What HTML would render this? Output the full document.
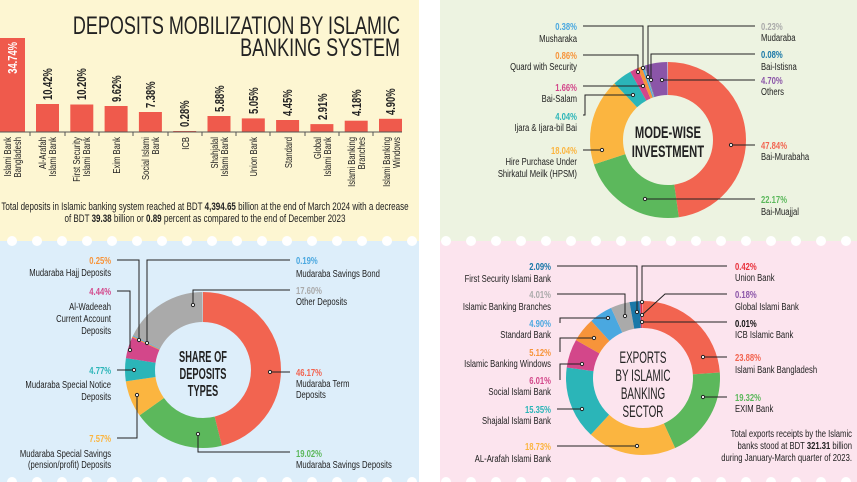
<!DOCTYPE html>
<html><head><meta charset="utf-8"><style>
html,body{margin:0;padding:0;background:#fff}
svg{display:block}
text{font-family:"Liberation Sans",sans-serif;font-size:10.5px;fill:#222}
.l{stroke:#222;stroke-width:1;fill:none}
.d{fill:#fff;stroke:#222;stroke-width:1}
</style></head><body>
<svg width="857" height="482" viewBox="0 0 857 482" xmlns="http://www.w3.org/2000/svg">
<rect x="0" y="0" width="419" height="241" fill="#fdf6d2"/>
<rect x="440" y="0" width="417" height="241" fill="#edf3e1"/>
<rect x="0" y="241" width="419" height="241" fill="#ddeefa"/>
<rect x="440" y="241" width="417" height="241" fill="#fce4ee"/>
<g fill="#fff">
<circle cx="12" cy="241" r="5"/><circle cx="37" cy="241" r="5"/><circle cx="62" cy="241" r="5"/><circle cx="87" cy="241" r="5"/><circle cx="112" cy="241" r="5"/><circle cx="137" cy="241" r="5"/><circle cx="162" cy="241" r="5"/><circle cx="187" cy="241" r="5"/><circle cx="212" cy="241" r="5"/><circle cx="237" cy="241" r="5"/><circle cx="262" cy="241" r="5"/><circle cx="287" cy="241" r="5"/><circle cx="312" cy="241" r="5"/><circle cx="337" cy="241" r="5"/><circle cx="362" cy="241" r="5"/><circle cx="387" cy="241" r="5"/><circle cx="412" cy="241" r="5"/>
<circle cx="446" cy="241" r="5"/><circle cx="471" cy="241" r="5"/><circle cx="496" cy="241" r="5"/><circle cx="521" cy="241" r="5"/><circle cx="546" cy="241" r="5"/><circle cx="571" cy="241" r="5"/><circle cx="596" cy="241" r="5"/><circle cx="621" cy="241" r="5"/><circle cx="646" cy="241" r="5"/><circle cx="671" cy="241" r="5"/><circle cx="696" cy="241" r="5"/><circle cx="721" cy="241" r="5"/><circle cx="746" cy="241" r="5"/><circle cx="771" cy="241" r="5"/><circle cx="796" cy="241" r="5"/><circle cx="821" cy="241" r="5"/><circle cx="846" cy="241" r="5"/>
<circle cx="12" cy="482" r="5"/><circle cx="37" cy="482" r="5"/><circle cx="62" cy="482" r="5"/><circle cx="87" cy="482" r="5"/><circle cx="112" cy="482" r="5"/><circle cx="137" cy="482" r="5"/><circle cx="162" cy="482" r="5"/><circle cx="187" cy="482" r="5"/><circle cx="212" cy="482" r="5"/><circle cx="237" cy="482" r="5"/><circle cx="262" cy="482" r="5"/><circle cx="287" cy="482" r="5"/><circle cx="312" cy="482" r="5"/><circle cx="337" cy="482" r="5"/><circle cx="362" cy="482" r="5"/><circle cx="387" cy="482" r="5"/><circle cx="412" cy="482" r="5"/>
<circle cx="446" cy="482" r="5"/><circle cx="471" cy="482" r="5"/><circle cx="496" cy="482" r="5"/><circle cx="521" cy="482" r="5"/><circle cx="546" cy="482" r="5"/><circle cx="571" cy="482" r="5"/><circle cx="596" cy="482" r="5"/><circle cx="621" cy="482" r="5"/><circle cx="646" cy="482" r="5"/><circle cx="671" cy="482" r="5"/><circle cx="696" cy="482" r="5"/><circle cx="721" cy="482" r="5"/><circle cx="746" cy="482" r="5"/><circle cx="771" cy="482" r="5"/><circle cx="796" cy="482" r="5"/><circle cx="821" cy="482" r="5"/><circle cx="846" cy="482" r="5"/>
</g>

<!-- TOP LEFT -->
<g transform="scale(0.72 1)">
<text x="555.6" y="34" text-anchor="end" style="font-size:25px">DEPOSITS MOBILIZATION BY ISLAMIC</text>
<text x="555.6" y="56" text-anchor="end" style="font-size:25px">BANKING SYSTEM</text>
</g>
<g fill="#ef5a4c">
<rect x="0" y="38" width="25" height="94"/>
<rect x="36" y="104" width="23" height="28"/>
<rect x="70.3" y="104.5" width="23" height="27.5"/>
<rect x="104.6" y="106" width="23" height="26"/>
<rect x="138.9" y="112" width="23" height="20"/>
<rect x="173.2" y="131" width="23" height="1"/>
<rect x="207.5" y="116" width="23" height="16"/>
<rect x="241.8" y="118.4" width="23" height="13.6"/>
<rect x="276.1" y="120" width="23" height="12"/>
<rect x="310.4" y="124.1" width="23" height="7.9"/>
<rect x="344.7" y="120.7" width="23" height="11.3"/>
<rect x="379" y="118.8" width="23" height="13.2"/>
</g>
<line x1="0" y1="132" x2="402" y2="132" stroke="#555" stroke-width="1"/>
<g stroke="#555"><line x1="30" y1="132" x2="30" y2="136"/><line x1="65" y1="132" x2="65" y2="136"/><line x1="99" y1="132" x2="99" y2="136"/><line x1="133" y1="132" x2="133" y2="136"/><line x1="168" y1="132" x2="168" y2="136"/><line x1="202" y1="132" x2="202" y2="136"/><line x1="236" y1="132" x2="236" y2="136"/><line x1="270" y1="132" x2="270" y2="136"/><line x1="305" y1="132" x2="305" y2="136"/><line x1="339" y1="132" x2="339" y2="136"/><line x1="373" y1="132" x2="373" y2="136"/></g>
<g style="font-weight:bold">
<text transform="translate(17,42) rotate(-90) scale(0.75 1)" text-anchor="end" style="fill:#fff;font-size:12.5px;font-weight:bold">34.74%</text>
<text transform="translate(52,100) rotate(-90) scale(0.75 1)" style="font-weight:bold;font-size:12.5px">10.42%</text>
<text transform="translate(86,100) rotate(-90) scale(0.75 1)" style="font-weight:bold;font-size:12.5px">10.20%</text>
<text transform="translate(121,102) rotate(-90) scale(0.75 1)" style="font-weight:bold;font-size:12.5px">9.62%</text>
<text transform="translate(155,108) rotate(-90) scale(0.75 1)" style="font-weight:bold;font-size:12.5px">7.38%</text>
<text transform="translate(189,127) rotate(-90) scale(0.75 1)" style="font-weight:bold;font-size:12.5px">0.28%</text>
<text transform="translate(224,112) rotate(-90) scale(0.75 1)" style="font-weight:bold;font-size:12.5px">5.88%</text>
<text transform="translate(258,114) rotate(-90) scale(0.75 1)" style="font-weight:bold;font-size:12.5px">5.05%</text>
<text transform="translate(292,116) rotate(-90) scale(0.75 1)" style="font-weight:bold;font-size:12.5px">4.45%</text>
<text transform="translate(327,120) rotate(-90) scale(0.75 1)" style="font-weight:bold;font-size:12.5px">2.91%</text>
<text transform="translate(361,116) rotate(-90) scale(0.75 1)" style="font-weight:bold;font-size:12.5px">4.18%</text>
<text transform="translate(395,115) rotate(-90) scale(0.75 1)" style="font-weight:bold;font-size:12.5px">4.90%</text>
</g>
<g style="font-size:10.5px">
<text transform="translate(11,137) rotate(-90) scale(0.73 1)" text-anchor="end">Islami Bank</text>
<text transform="translate(21,137) rotate(-90) scale(0.73 1)" text-anchor="end">Bangladesh</text>
<text transform="translate(46,137) rotate(-90) scale(0.73 1)" text-anchor="end">Al-Arafah</text>
<text transform="translate(56,137) rotate(-90) scale(0.73 1)" text-anchor="end">Islami Bank</text>
<text transform="translate(80,137) rotate(-90) scale(0.73 1)" text-anchor="end">First Security</text>
<text transform="translate(90,137) rotate(-90) scale(0.73 1)" text-anchor="end">Islami Bank</text>
<text transform="translate(120,137) rotate(-90) scale(0.73 1)" text-anchor="end">Exim Bank</text>
<text transform="translate(149,137) rotate(-90) scale(0.73 1)" text-anchor="end">Social Islami</text>
<text transform="translate(159,137) rotate(-90) scale(0.73 1)" text-anchor="end">Bank</text>
<text transform="translate(189,137) rotate(-90) scale(0.73 1)" text-anchor="end">ICB</text>
<text transform="translate(218,137) rotate(-90) scale(0.73 1)" text-anchor="end">Shahjalal</text>
<text transform="translate(228,137) rotate(-90) scale(0.73 1)" text-anchor="end">Islami Bank</text>
<text transform="translate(257,137) rotate(-90) scale(0.73 1)" text-anchor="end">Union Bank</text>
<text transform="translate(292,137) rotate(-90) scale(0.73 1)" text-anchor="end">Standard</text>
<text transform="translate(321,137) rotate(-90) scale(0.73 1)" text-anchor="end">Global</text>
<text transform="translate(331,137) rotate(-90) scale(0.73 1)" text-anchor="end">Islami Bank</text>
<text transform="translate(355,137) rotate(-90) scale(0.73 1)" text-anchor="end">Islami Banking</text>
<text transform="translate(365,137) rotate(-90) scale(0.73 1)" text-anchor="end">Branches</text>
<text transform="translate(390,137) rotate(-90) scale(0.73 1)" text-anchor="end">Islami Banking</text>
<text transform="translate(400,137) rotate(-90) scale(0.73 1)" text-anchor="end">Windows</text>
</g>
<g transform="scale(0.73 1)">
<text x="280.8" y="210" text-anchor="middle" style="font-size:11px">Total deposits in Islamic banking system reached at BDT <tspan style="font-weight:bold">4,394.65</tspan> billion at the end of March 2024 with a decrease</text>
<text x="280.8" y="222" text-anchor="middle" style="font-size:11px">of BDT <tspan style="font-weight:bold">39.38</tspan> billion or <tspan style="font-weight:bold">0.89</tspan> percent as compared to the end of December 2023</text>
</g>

<!-- TOP RIGHT donut -->
<g transform="rotate(-90 668 140)" fill="none" stroke-width="33">
<circle cx="668" cy="140" r="61.5" pathLength="100" stroke="#f26450" stroke-dasharray="47.84 100" stroke-dashoffset="0"/>
<circle cx="668" cy="140" r="61.5" pathLength="100" stroke="#5cb85c" stroke-dasharray="22.17 100" stroke-dashoffset="-47.84"/>
<circle cx="668" cy="140" r="61.5" pathLength="100" stroke="#fbb540" stroke-dasharray="18.04 100" stroke-dashoffset="-70.01"/>
<circle cx="668" cy="140" r="61.5" pathLength="100" stroke="#2bb5b8" stroke-dasharray="4.04 100" stroke-dashoffset="-88.05"/>
<circle cx="668" cy="140" r="61.5" pathLength="100" stroke="#d3478a" stroke-dasharray="1.66 100" stroke-dashoffset="-92.09"/>
<circle cx="668" cy="140" r="61.5" pathLength="100" stroke="#f7943a" stroke-dasharray="0.86 100" stroke-dashoffset="-93.75"/>
<circle cx="668" cy="140" r="61.5" pathLength="100" stroke="#4aa8e0" stroke-dasharray="0.38 100" stroke-dashoffset="-94.61"/>
<circle cx="668" cy="140" r="61.5" pathLength="100" stroke="#aaaaaa" stroke-dasharray="0.23 100" stroke-dashoffset="-94.99"/>
<circle cx="668" cy="140" r="61.5" pathLength="100" stroke="#1a78a8" stroke-dasharray="0.08 100" stroke-dashoffset="-95.22"/>
<circle cx="668" cy="140" r="61.5" pathLength="100" stroke="#8b55a8" stroke-dasharray="4.70 100" stroke-dashoffset="-95.30"/>
</g>
<g transform="scale(0.66 1)">
<text x="1012" y="138" text-anchor="middle" style="font-size:17px;font-weight:bold">MODE-WISE</text>
<text x="1012" y="157" text-anchor="middle" style="font-size:17px;font-weight:bold">INVESTMENT</text>
</g>
<g>
<polyline class="l" points="583,26 643,26 643,68"/>
<polyline class="l" points="583,55 638,55 638,72"/>
<polyline class="l" points="583,86 643,86"/>
<polyline class="l" points="583,115 585,115 585,95 633,95"/>
<polyline class="l" points="583,150 602,150"/>
<polyline class="l" points="755,26 648,26 648,77"/>
<polyline class="l" points="755,54 651,54 651,80"/>
<polyline class="l" points="755,80 662,80"/>
<polyline class="l" points="731,145 755,145"/>
<polyline class="l" points="645,199 755,199"/>
<circle class="d" cx="643" cy="68" r="1.6"/><circle class="d" cx="638" cy="72" r="1.6"/><circle class="d" cx="643" cy="86" r="1.6"/><circle class="d" cx="633" cy="95" r="1.6"/><circle class="d" cx="602" cy="150" r="1.6"/><circle class="d" cx="648" cy="77" r="1.6"/><circle class="d" cx="651" cy="80" r="1.6"/><circle class="d" cx="662" cy="80" r="1.6"/><circle class="d" cx="731" cy="145" r="1.6"/><circle class="d" cx="645" cy="199" r="1.6"/>
</g>
<g transform="scale(0.73 1)" style="font-size:11px">
<g text-anchor="end">
<text x="790.4" y="30" style="fill:#4aa8e0;font-weight:bold">0.38%</text><text x="790.4" y="42">Musharaka</text>
<text x="790.4" y="59" style="fill:#f7943a;font-weight:bold">0.86%</text><text x="790.4" y="70">Quard with Security</text>
<text x="790.4" y="91" style="fill:#d3478a;font-weight:bold">1.66%</text><text x="790.4" y="102">Bai-Salam</text>
<text x="790.4" y="120" style="fill:#2bb5b8;font-weight:bold">4.04%</text><text x="790.4" y="131">Ijara &amp; Ijara-bil Bai</text>
<text x="790.4" y="154" style="fill:#fbb540;font-weight:bold">18.04%</text><text x="790.4" y="165">Hire Purchase Under</text><text x="790.4" y="177">Shirkatul Meilk (HPSM)</text>
</g>
<g>
<text x="1042.5" y="30" style="fill:#aaa;font-weight:bold">0.23%</text><text x="1042.5" y="41">Mudaraba</text>
<text x="1042.5" y="58" style="fill:#1a78a8;font-weight:bold">0.08%</text><text x="1042.5" y="70">Bai-Istisna</text>
<text x="1042.5" y="84" style="fill:#8b55a8;font-weight:bold">4.70%</text><text x="1042.5" y="95">Others</text>
<text x="1042.5" y="149" style="fill:#f26450;font-weight:bold">47.84%</text><text x="1042.5" y="160">Bai-Murabaha</text>
<text x="1042.5" y="203" style="fill:#5cb85c;font-weight:bold">22.17%</text><text x="1042.5" y="215">Bai-Muajjal</text>
</g>
</g>

<!-- BOTTOM LEFT donut -->
<g transform="rotate(-90 203 370)" fill="none" stroke-width="30">
<circle cx="203" cy="370" r="63" pathLength="100" stroke="#f26450" stroke-dasharray="46.17 100" stroke-dashoffset="0"/>
<circle cx="203" cy="370" r="63" pathLength="100" stroke="#5cb85c" stroke-dasharray="19.02 100" stroke-dashoffset="-46.17"/>
<circle cx="203" cy="370" r="63" pathLength="100" stroke="#fbb540" stroke-dasharray="7.57 100" stroke-dashoffset="-65.19"/>
<circle cx="203" cy="370" r="63" pathLength="100" stroke="#2bb5b8" stroke-dasharray="4.77 100" stroke-dashoffset="-72.76"/>
<circle cx="203" cy="370" r="63" pathLength="100" stroke="#d3478a" stroke-dasharray="4.44 100" stroke-dashoffset="-77.53"/>
<circle cx="203" cy="370" r="63" pathLength="100" stroke="#f7943a" stroke-dasharray="0.25 100" stroke-dashoffset="-81.97"/>
<circle cx="203" cy="370" r="63" pathLength="100" stroke="#4aa8e0" stroke-dasharray="0.19 100" stroke-dashoffset="-82.22"/>
<circle cx="203" cy="370" r="63" pathLength="100" stroke="#aaaaaa" stroke-dasharray="17.60 100" stroke-dashoffset="-82.41"/>
</g>
<g transform="scale(0.58 1)">
<text x="350" y="362" text-anchor="middle" style="font-size:16px;font-weight:bold">SHARE OF</text>
<text x="350" y="379" text-anchor="middle" style="font-size:16px;font-weight:bold">DEPOSITS</text>
<text x="350" y="396" text-anchor="middle" style="font-size:16px;font-weight:bold">TYPES</text>
</g>
<g>
<polyline class="l" points="117,260 139,260 139,340"/>
<polyline class="l" points="117,291 130,291 130,350"/>
<polyline class="l" points="117,370 134,370"/>
<polyline class="l" points="117,438 137,438 137,395"/>
<polyline class="l" points="290,260 147,260 147,343"/>
<polyline class="l" points="290,290 193,290 193,305"/>
<polyline class="l" points="270,372 290,372"/>
<polyline class="l" points="198,434 198,452 290,452"/>
<circle class="d" cx="139" cy="340" r="1.6"/><circle class="d" cx="130" cy="350" r="1.6"/><circle class="d" cx="134" cy="370" r="1.6"/><circle class="d" cx="137" cy="395" r="1.6"/><circle class="d" cx="147" cy="343" r="1.6"/><circle class="d" cx="193" cy="305" r="1.6"/><circle class="d" cx="270" cy="372" r="1.6"/><circle class="d" cx="198" cy="434" r="1.6"/>
</g>
<g transform="scale(0.73 1)" style="font-size:11px">
<g text-anchor="end">
<text x="152.1" y="264" style="fill:#f7943a;font-weight:bold">0.25%</text><text x="152.1" y="276">Mudaraba Hajj Deposits</text>
<text x="152.1" y="295" style="fill:#d3478a;font-weight:bold">4.44%</text><text x="152.1" y="310">Al-Wadeeah</text><text x="152.1" y="322">Current Account</text><text x="152.1" y="334">Deposits</text>
<text x="152.1" y="374" style="fill:#2bb5b8;font-weight:bold">4.77%</text><text x="152.1" y="388">Mudaraba Special Notice</text><text x="152.1" y="400">Deposits</text>
<text x="152.1" y="442" style="fill:#fbb540;font-weight:bold">7.57%</text><text x="152.1" y="457">Mudaraba Special Savings</text><text x="152.1" y="468">(pension/profit) Deposits</text>
</g>
<g>
<text x="405.5" y="264" style="fill:#4aa8e0;font-weight:bold">0.19%</text><text x="405.5" y="277">Mudaraba Savings Bond</text>
<text x="405.5" y="294" style="fill:#aaa;font-weight:bold">17.60%</text><text x="405.5" y="305">Other Deposits</text>
<text x="405.5" y="376" style="fill:#f26450;font-weight:bold">46.17%</text><text x="405.5" y="387">Mudaraba Term</text><text x="405.5" y="398">Deposits</text>
<text x="405.5" y="457" style="fill:#5cb85c;font-weight:bold">19.02%</text><text x="405.5" y="468">Mudaraba Savings Deposits</text>
</g>
</g>

<!-- BOTTOM RIGHT donut -->
<g transform="rotate(-90 643 378)" fill="none" stroke-width="27">
<circle cx="643" cy="378" r="63.5" pathLength="100" stroke="#f26450" stroke-dasharray="23.88 100" stroke-dashoffset="0"/>
<circle cx="643" cy="378" r="63.5" pathLength="100" stroke="#5cb85c" stroke-dasharray="19.32 100" stroke-dashoffset="-23.88"/>
<circle cx="643" cy="378" r="63.5" pathLength="100" stroke="#fbb540" stroke-dasharray="18.73 100" stroke-dashoffset="-43.2"/>
<circle cx="643" cy="378" r="63.5" pathLength="100" stroke="#2bb5b8" stroke-dasharray="15.35 100" stroke-dashoffset="-61.93"/>
<circle cx="643" cy="378" r="63.5" pathLength="100" stroke="#d3478a" stroke-dasharray="6.01 100" stroke-dashoffset="-77.28"/>
<circle cx="643" cy="378" r="63.5" pathLength="100" stroke="#f7943a" stroke-dasharray="5.12 100" stroke-dashoffset="-83.29"/>
<circle cx="643" cy="378" r="63.5" pathLength="100" stroke="#4aa8e0" stroke-dasharray="4.90 100" stroke-dashoffset="-88.41"/>
<circle cx="643" cy="378" r="63.5" pathLength="100" stroke="#aaaaaa" stroke-dasharray="4.01 100" stroke-dashoffset="-93.31"/>
<circle cx="643" cy="378" r="63.5" pathLength="100" stroke="#1a78a8" stroke-dasharray="2.09 100" stroke-dashoffset="-97.32"/>
<circle cx="643" cy="378" r="63.5" pathLength="100" stroke="#8b55a8" stroke-dasharray="0.18 100" stroke-dashoffset="-99.41"/>
<circle cx="643" cy="378" r="63.5" pathLength="100" stroke="#e8303a" stroke-dasharray="0.42 100" stroke-dashoffset="-99.59"/>
</g>
<g transform="scale(0.58 1)" text-anchor="middle">
<text x="1108.6" y="363" style="font-size:17px">EXPORTS</text>
<text x="1108.6" y="381" style="font-size:17px">BY ISLAMIC</text>
<text x="1108.6" y="399" style="font-size:17px">BANKING</text>
<text x="1108.6" y="417" style="font-size:17px">SECTOR</text>
</g>
<g>
<polyline class="l" points="557,266 637,266 637,312"/>
<polyline class="l" points="557,294 625,294 625,316"/>
<polyline class="l" points="560,323 560,318 608,318"/>
<polyline class="l" points="560,352 560,338 594,338"/>
<polyline class="l" points="560,380 560,364 582,364"/>
<polyline class="l" points="557,409 582,409"/>
<polyline class="l" points="557,446 637,446"/>
<polyline class="l" points="727,266 642,266 642,302"/>
<polyline class="l" points="727,294 665,294 642,315"/>
<polyline class="l" points="727,322 642,322"/>
<polyline class="l" points="703,357 727,357"/>
<polyline class="l" points="703,397 727,397"/>
<circle class="d" cx="637" cy="312" r="1.6"/><circle class="d" cx="625" cy="316" r="1.6"/><circle class="d" cx="608" cy="318" r="1.6"/><circle class="d" cx="594" cy="338" r="1.6"/><circle class="d" cx="582" cy="364" r="1.6"/><circle class="d" cx="582" cy="409" r="1.6"/><circle class="d" cx="637" cy="446" r="1.6"/><circle class="d" cx="642" cy="302" r="1.6"/><circle class="d" cx="642" cy="315" r="1.6"/><circle class="d" cx="642" cy="322" r="1.6"/><circle class="d" cx="703" cy="357" r="1.6"/><circle class="d" cx="703" cy="397" r="1.6"/>
</g>
<g transform="scale(0.73 1)" style="font-size:11px">
<g text-anchor="end">
<text x="754.8" y="270" style="fill:#1a78a8;font-weight:bold">2.09%</text><text x="754.8" y="282">First Security Islami Bank</text>
<text x="754.8" y="298" style="fill:#aaa;font-weight:bold">4.01%</text><text x="754.8" y="310">Islamic Banking Branches</text>
<text x="754.8" y="327" style="fill:#4aa8e0;font-weight:bold">4.90%</text><text x="754.8" y="338">Standard Bank</text>
<text x="754.8" y="356" style="fill:#f7943a;font-weight:bold">5.12%</text><text x="754.8" y="367">Islamic Banking Windows</text>
<text x="754.8" y="384" style="fill:#d3478a;font-weight:bold">6.01%</text><text x="754.8" y="395">Social Islami Bank</text>
<text x="754.8" y="413" style="fill:#2bb5b8;font-weight:bold">15.35%</text><text x="754.8" y="424">Shajalal Islami Bank</text>
<text x="754.8" y="450" style="fill:#fbb540;font-weight:bold">18.73%</text><text x="754.8" y="462">AL-Arafah Islami Bank</text>
</g>
<g>
<text x="1006.8" y="270" style="fill:#e8303a;font-weight:bold">0.42%</text><text x="1006.8" y="281">Union Bank</text>
<text x="1006.8" y="298" style="fill:#8b55a8;font-weight:bold">0.18%</text><text x="1006.8" y="310">Global Islami Bank</text>
<text x="1006.8" y="327" style="fill:#111;font-weight:bold">0.01%</text><text x="1006.8" y="338">ICB Islamic Bank</text>
<text x="1006.8" y="361" style="fill:#f26450;font-weight:bold">23.88%</text><text x="1006.8" y="373">Islami Bank Bangladesh</text>
<text x="1006.8" y="401" style="fill:#5cb85c;font-weight:bold">19.32%</text><text x="1006.8" y="412">EXIM Bank</text>
</g>
<g text-anchor="end">
<text x="1167.1" y="437">Total exports receipts by the Islamic</text>
<text x="1167.1" y="449">banks stood at BDT <tspan style="font-weight:bold">321.31</tspan> billion</text>
<text x="1167.1" y="461">during January-March quarter of 2023.</text>
</g>
</g>
</svg>
</body></html>
